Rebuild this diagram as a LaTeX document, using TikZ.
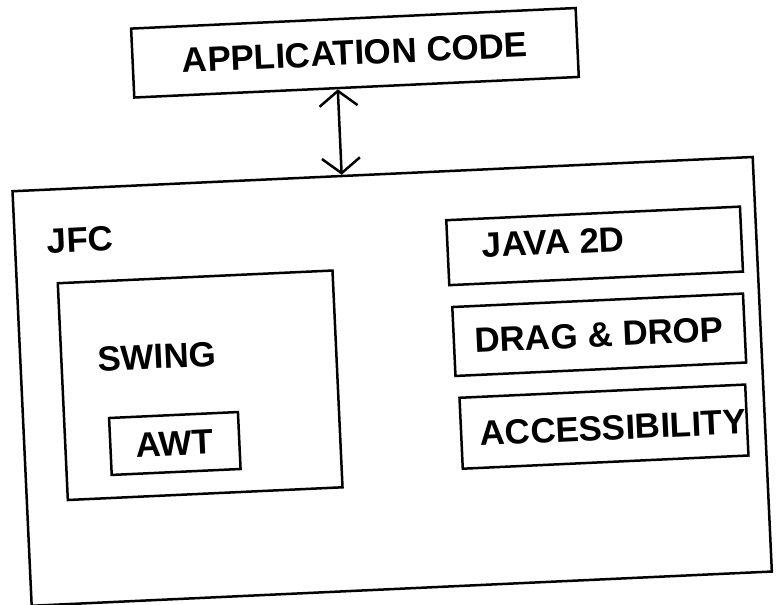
\documentclass[tikz,border=0pt]{standalone}
\usepackage{fontspec}
\setmainfont{Liberation Sans}
\usetikzlibrary{arrows.meta,calc}
\tikzset{
  box/.style={draw,line width=2.5pt,inner sep=0pt},
  lbl/.style={font=\fontsize{35}{40}\selectfont\bfseries,inner sep=0pt},
}
\begin{document}
\begin{tikzpicture}[x=1pt,y=-1pt]
  \useasboundingbox (0,0) rectangle (777,605);
  \begin{scope}[rotate around={2.65:(388,302)},transform shape]
  \node[box,lbl,minimum width=445pt,minimum height=69pt] (app) at (366.5,51.5) {APPLICATION CODE};
  \node[box,minimum width=741pt,minimum height=415pt] (jfc) at (388.5,381.5) {};
  \node[lbl,anchor=west] (jfclbl) at (50,226) {JFC};
  % swing with awt inside
  \node[box,minimum width=275pt,minimum height=217pt] (swing) at (196.5,376.5) {};
  \node[lbl,anchor=west] (swinglbl) at (95,346) {SWING};
  \node[box,lbl,minimum width=129pt,minimum height=57pt] (awt) at (168.5,433.5) {AWT};
  % right column
  \node[box,minimum width=294pt,minimum height=65pt] (java) at (597,255.5) {};
  \node[lbl,anchor=west] (javalbl) at (484.5,250) {JAVA 2D};
  \node[box,lbl,minimum width=291pt,minimum height=69pt] (drag) at (597.5,344.5) {DRAG \& DROP};
  \node[box,minimum width=286pt,minimum height=71pt] (acc) at (598,436.5) {};
  \node[lbl] (acclbl) at (607,438) {ACCESSIBILITY};
  \draw[line width=2.5pt,{Straight Barb[length=15pt,width=38pt]}-{Straight Barb[length=15pt,width=38pt]}]
    ($(app.south west)!0.458!(app.south east)$) -- ($(jfc.north west)!0.445!(jfc.north east)$);
  \end{scope}
\end{tikzpicture}
\end{document}
